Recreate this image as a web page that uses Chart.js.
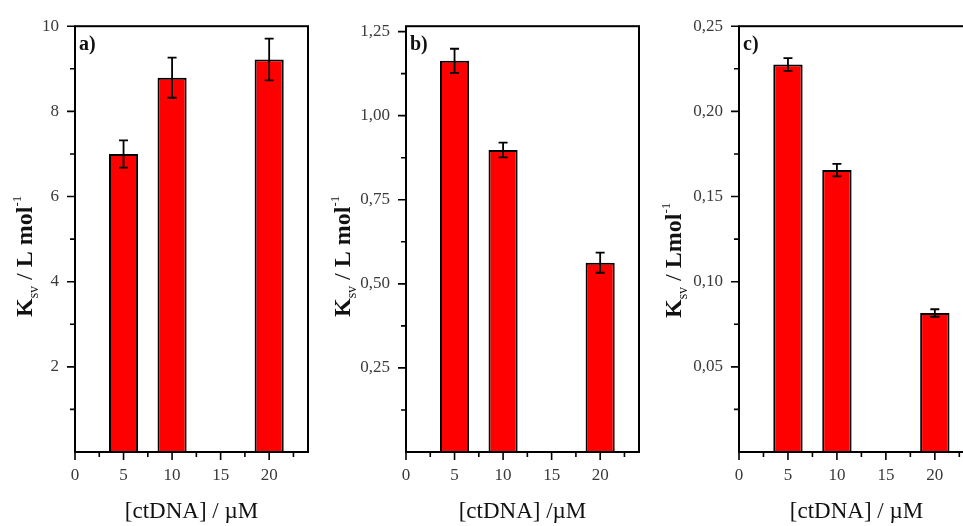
<!DOCTYPE html>
<html>
<head>
<meta charset="utf-8">
<script src="https://cdn.jsdelivr.net/npm/chart.js@4.4.0/dist/chart.umd.min.js"></script>
<style>
  body { margin: 0; width: 963px; height: 526px; overflow: hidden; background: #fff; position: relative; }
  canvas { position: absolute; top: 0; }
</style>
</head>
<body>
<canvas id="chart-a" width="318" height="526" style="left:0px"></canvas>
<canvas id="chart-b" width="319" height="526" style="left:330px"></canvas>
<canvas id="chart-c" width="324" height="526" style="left:660px"></canvas>
<script>
// [ctDNA] in uM
const concentrations = [5, 10, 20];

// Ksv values and errors for each panel
const ksvA = [7.00, 8.79, 9.22];
const errA = [0.32, 0.47, 0.49];
const ksvB = [1.163, 0.898, 0.563];
const errB = [0.036, 0.022, 0.030];
const ksvC = [0.2275, 0.1655, 0.0816];
const errC = [0.0037, 0.0037, 0.0022];

// tick labels
const xTicks = [0, 5, 10, 15, 20];
const xMinor = [2.5, 7.5, 12.5, 17.5, 22.5];
const yTicksA = [2, 4, 6, 8, 10];
const yMinorA = [1, 3, 5, 7, 9];
const yTicksB = [0.25, 0.50, 0.75, 1.00, 1.25];
const yMinorB = [0.125, 0.375, 0.625, 0.875, 1.125];
const yTicksC = [0.05, 0.10, 0.15, 0.20, 0.25];
const yMinorC = [0.025, 0.075, 0.125, 0.175, 0.225];

const SERIF = "'Liberation Serif', 'Times New Roman', serif";

function panelPlugin(cfg) {
    return {
        id: 'panelExtras',
        afterDatasetsDraw(chart) {
            // error bars
            const {ctx, scales: {x, y}} = chart;
            ctx.save();
            ctx.strokeStyle = '#000';
            ctx.lineWidth = 1.8;
            ctx.beginPath();
            for (let i = 0; i < concentrations.length; i++) {
                const px = x.getPixelForValue(concentrations[i]);
                const top = y.getPixelForValue(cfg.values[i] + cfg.errors[i]);
                const bot = y.getPixelForValue(cfg.values[i] - cfg.errors[i]);
                ctx.moveTo(px, top); ctx.lineTo(px, bot);
                ctx.moveTo(px - 4.5, top); ctx.lineTo(px + 4.5, top);
                ctx.moveTo(px - 4.5, bot); ctx.lineTo(px + 4.5, bot);
            }
            ctx.stroke();
            ctx.restore();
        },
        afterDraw(chart) {
            const {ctx, chartArea: a, scales: {x, y}} = chart;
            ctx.save();
            ctx.strokeStyle = '#000';
            ctx.lineWidth = 2;
            ctx.strokeRect(a.left, a.top, a.right - a.left, a.bottom - a.top);

            // outward ticks, major and minor
            ctx.lineWidth = 1.6;
            ctx.beginPath();
            xTicks.forEach(v => { const p = x.getPixelForValue(v); ctx.moveTo(p, a.bottom); ctx.lineTo(p, a.bottom + 8); });
            xMinor.forEach(v => { const p = x.getPixelForValue(v); ctx.moveTo(p, a.bottom); ctx.lineTo(p, a.bottom + 5); });
            cfg.yTicks.forEach(v => { const p = y.getPixelForValue(v); ctx.moveTo(a.left, p); ctx.lineTo(a.left - 8, p); });
            cfg.yMinor.forEach(v => { const p = y.getPixelForValue(v); ctx.moveTo(a.left, p); ctx.lineTo(a.left - 5, p); });
            ctx.stroke();

            // panel label
            ctx.fillStyle = '#111';
            ctx.font = 'bold 20px ' + SERIF;
            ctx.textBaseline = 'top';
            ctx.textAlign = 'left';
            ctx.fillText(cfg.label, a.left + 4, a.top + 9);

            // y title with sub/superscript, rotated
            ctx.translate(a.left - cfg.titleOffset, cfg.titleStart);
            ctx.rotate(-Math.PI / 2);
            ctx.textBaseline = 'alphabetic';
            let pos = 0;
            cfg.yTitle.forEach(part => {
                ctx.font = part.font + ' ' + SERIF;
                ctx.fillText(part.text, pos, part.shift);
                pos += ctx.measureText(part.text).width;
            });
            ctx.restore();
        }
    };
}

function titleParts(unit) {
    return [
        {text: 'K', font: 'bold 24px', shift: 0},
        {text: 'sv', font: '14px', shift: 6},
        {text: ' / ', font: '24px', shift: 0},
        {text: unit, font: 'bold 24px', shift: 0},
        {text: '-1', font: '13px', shift: -11}
    ];
}

function makePanel(id, cfg) {
    const ctx = document.getElementById(id).getContext('2d');
    return new Chart(ctx, {
        type: 'bar',
        data: {
            datasets: [{
                data: concentrations.map((c, i) => ({x: c, y: cfg.values[i]})),
                backgroundColor: '#ff0000',
                borderColor: '#000000',
                borderWidth: 2,
                barPercentage: 0.6,
                categoryPercentage: 1
            }]
        },
        options: {
            responsive: false,
            animation: false,
            devicePixelRatio: 1,
            layout: { padding: { top: 22, right: 10, bottom: 0, left: 0 } },
            plugins: {
                legend: { display: false },
                tooltip: { enabled: false }
            },
            scales: {
                x: {
                    type: 'linear',
                    min: 0,
                    max: 24,
                    offset: false,
                    grid: { display: false, drawTicks: false, offset: false },
                    border: { display: false },
                    afterBuildTicks: s => { s.ticks = xTicks.map(v => ({value: v})); },
                    afterFit: s => { s.height = 74; },
                    ticks: { padding: 13, color: '#3a3a3a', font: { family: SERIF, size: 17 } },
                    title: {
                        display: true,
                        text: cfg.xTitle,
                        color: '#111',
                        padding: 0,
                        font: { family: SERIF, size: 23 }
                    }
                },
                y: {
                    min: 0,
                    max: cfg.yMax,
                    grid: { display: false, drawTicks: false },
                    border: { display: false },
                    afterBuildTicks: s => { s.ticks = cfg.yTicks.map(v => ({value: v})); },
                    afterFit: s => { s.width = cfg.yWidth; },
                    ticks: {
                        padding: 16,
                        color: '#3a3a3a',
                        font: { family: SERIF, size: 17 },
                        callback: v => v.toFixed(cfg.decimals).replace('.', ',')
                    }
                }
            }
        },
        plugins: [panelPlugin(cfg)]
    });
}

makePanel('chart-a', {
    values: ksvA, errors: errA, yMax: 10, yTicks: yTicksA, yMinor: yMinorA, decimals: 0,
    yWidth: 75, label: 'a)', xTitle: '[ctDNA] / \u00b5M',
    yTitle: titleParts('L mol'), titleOffset: 43, titleStart: 317
});
makePanel('chart-b', {
    values: ksvB, errors: errB, yMax: 1.266, yTicks: yTicksB, yMinor: yMinorB, decimals: 2,
    yWidth: 76, label: 'b)', xTitle: '[ctDNA] /\u00b5M',
    yTitle: titleParts('L mol'), titleOffset: 56, titleStart: 317
});
makePanel('chart-c', {
    values: ksvC, errors: errC, yMax: 0.25, yTicks: yTicksC, yMinor: yMinorC, decimals: 2,
    yWidth: 79, label: 'c)', xTitle: '[ctDNA] / \u00b5M',
    yTitle: titleParts('Lmol'), titleOffset: 58, titleStart: 318
});
</script>
</body>
</html>
